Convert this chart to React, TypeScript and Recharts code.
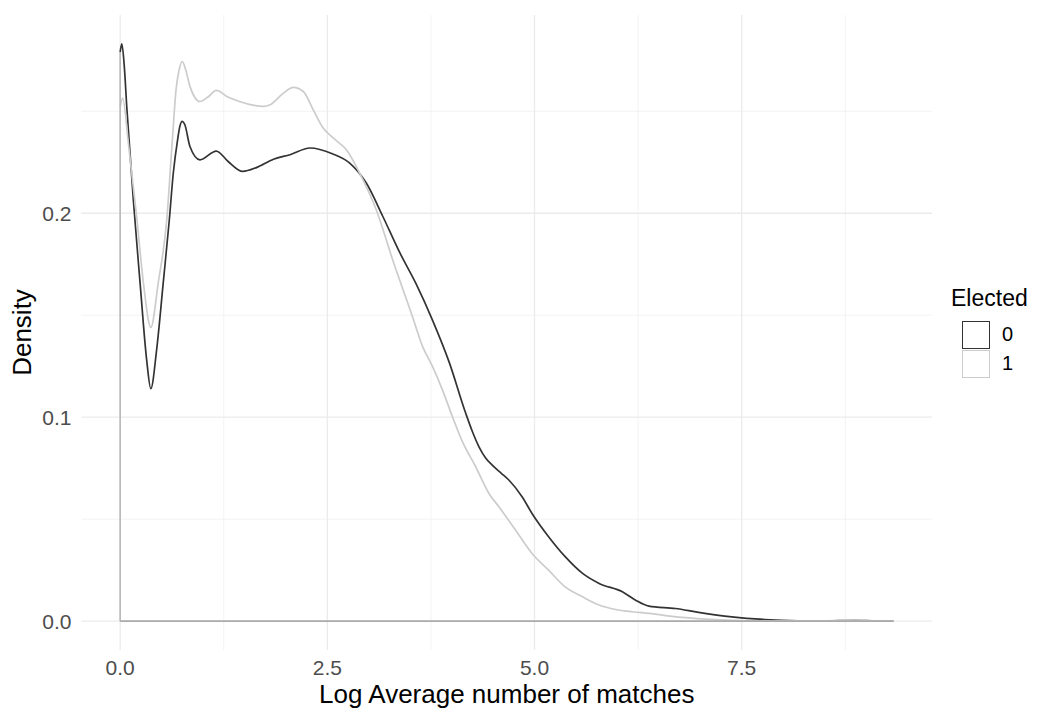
import React from 'react';
import {
  LineChart,
  Line,
  XAxis,
  YAxis,
  CartesianGrid,
  ReferenceLine,
} from 'recharts';

// log average matches, density estimate for non-elected (0)
const x0 = [
  0, 0.02, 0.05, 0.08, 0.12, 0.16, 0.24, 0.32, 0.37, 0.44,
  0.52, 0.593, 0.641, 0.693, 0.72, 0.749, 0.78, 0.842, 0.963, 1.16,
  1.3, 1.48, 1.65, 1.85, 2.05, 2.29, 2.56, 2.77, 2.97, 3.17,
  3.37, 3.57, 3.77, 3.97, 4.17, 4.25, 4.33, 4.41, 4.49, 4.6,
  4.69, 4.85, 4.97, 5.17, 5.37, 5.58, 5.78, 6.06, 6.22, 6.38,
  6.7, 6.98, 7.38, 7.78, 8.18, 8.5, 8.85, 9.1, 9.33,
];
const d0 = [
  0.279, 0.283, 0.272, 0.252, 0.229, 0.206, 0.166, 0.128, 0.114, 0.133,
  0.166, 0.1967, 0.2196, 0.236, 0.2425, 0.245, 0.2435, 0.2327, 0.2262, 0.2305,
  0.2255, 0.2205, 0.2225, 0.2265, 0.2287, 0.232, 0.2292, 0.2246, 0.2148, 0.1984,
  0.181, 0.1655, 0.1475, 0.127, 0.1019, 0.093, 0.0855, 0.08, 0.0765, 0.0725,
  0.0692, 0.061, 0.0528, 0.0414, 0.0316, 0.0234, 0.0185, 0.0144, 0.0103, 0.0074,
  0.0062, 0.0043, 0.0021, 0.0008, 0.0002, 0.0001, 0.0004, 0.0001, 0,
];

// elected (1)
const x1 = [
  0, 0.03, 0.1, 0.2, 0.28, 0.37, 0.46, 0.562, 0.63, 0.674,
  0.71, 0.749, 0.79, 0.842, 0.963, 1.06, 1.16, 1.3, 1.44, 1.6,
  1.73, 1.81, 1.97, 2.09, 2.21, 2.33, 2.45, 2.57, 2.73, 2.89,
  3.09, 3.29, 3.53, 3.65, 3.77, 3.89, 4.01, 4.13, 4.29, 4.45,
  4.57, 4.77, 4.97, 5.17, 5.37, 5.58, 5.78, 5.98, 6.18, 6.38,
  6.78, 7.18, 7.58, 8.0, 8.4, 8.8, 9.1, 9.33,
];
const d1 = [
  0.252, 0.2565, 0.234, 0.198, 0.166, 0.144, 0.166, 0.1967, 0.236, 0.2605,
  0.27, 0.2744, 0.2705, 0.2622, 0.2548, 0.257, 0.2602, 0.257, 0.2548, 0.253,
  0.2524, 0.2532, 0.2589, 0.2617, 0.2597, 0.2507, 0.2418, 0.2369, 0.2311, 0.2197,
  0.2017, 0.177, 0.149, 0.1346, 0.1248, 0.1133, 0.1002, 0.088, 0.0757, 0.0626,
  0.0561, 0.0447, 0.0332, 0.025, 0.0168, 0.0119, 0.0079, 0.0057, 0.0046, 0.0038,
  0.0018, 0.0007, 0.0002, 0.0001, 0.0001, 0.0005, 0.0002, 0,
];

const xMajor = [0, 2.5, 5, 7.5];
const xMinor = [1.25, 3.75, 6.25, 8.75];
const yMajor = [0, 0.1, 0.2];
const yMinor = [0.05, 0.15, 0.25];

const groups = ['0', '1'];
const colors = ['#333333', '#cccccc'];

const series0 = x0.map((x, i) => ({ x, y: d0[i] }));
const series1 = x1.map((x, i) => ({ x, y: d1[i] }));
const xMax = x0[x0.length - 1];

const font = '"Liberation Sans", Arial, Helvetica, sans-serif';

function LegendBox() {
  return (
    <div
      style={{
        position: 'absolute',
        left: 951,
        top: 285,
        fontFamily: font,
        color: '#000',
      }}
    >
      <div style={{ fontSize: 23, lineHeight: '26px', marginBottom: 9 }}>Elected</div>
      {groups.map((g, i) => (
        <div key={g} style={{ display: 'flex', alignItems: 'center', height: 29 }}>
          <div
            style={{
              width: 28,
              height: 28,
              boxSizing: 'border-box',
              border: `1.6px solid ${colors[i]}`,
              marginLeft: 11,
            }}
          />
          <span style={{ fontSize: 20, marginLeft: 12, color: '#000' }}>{g}</span>
        </div>
      ))}
    </div>
  );
}

export default function App() {
  return (
    <div style={{ position: 'absolute', left: 0, top: 0, width: 1052, height: 709, background: '#fff' }}>
      <LineChart
        width={1052}
        height={709}
        margin={{ top: 15, right: 120, bottom: 0, left: 0 }}
        style={{ fontFamily: font }}
      >
        <CartesianGrid
          vertical
          horizontal
          verticalValues={xMinor}
          horizontalValues={yMinor}
          stroke="#f0f0f0"
          strokeWidth={0.8}
        />
        <CartesianGrid
          vertical
          horizontal
          verticalValues={xMajor}
          horizontalValues={yMajor}
          stroke="#ebebeb"
          strokeWidth={1.3}
        />
        <XAxis
          type="number"
          dataKey="x"
          domain={[-0.4665, 9.7965]}
          ticks={xMajor}
          allowDataOverflow
          axisLine={false}
          tickLine={false}
          tickSize={0}
          tickMargin={10}
          height={59}
          tick={{ fill: '#4d4d4d', fontSize: 21 }}
          tickFormatter={(v: number) => v.toFixed(1)}
          label={{
            value: 'Log Average number of matches',
            position: 'insideBottom',
            offset: 6,
            fill: '#000',
            fontSize: 26,
          }}
        />
        <YAxis
          type="number"
          dataKey="y"
          domain={[-0.01415, 0.2972]}
          ticks={yMajor}
          allowDataOverflow
          axisLine={false}
          tickLine={false}
          tickSize={0}
          tickMargin={10}
          width={81.5}
          tick={{ fill: '#4d4d4d', fontSize: 21 }}
          tickFormatter={(v: number) => v.toFixed(1)}
          label={{
            value: 'Density',
            angle: -90,
            position: 'insideLeft',
            offset: 22,
            fill: '#000',
            fontSize: 26,
            style: { textAnchor: 'middle' },
          }}
        />
        <Line
          data={series0}
          dataKey="y"
          type="monotone"
          stroke={colors[0]}
          strokeWidth={1.7}
          dot={false}
          isAnimationActive={false}
        />
        <Line
          data={series1}
          dataKey="y"
          type="monotone"
          stroke={colors[1]}
          strokeWidth={1.7}
          dot={false}
          isAnimationActive={false}
        />
        <ReferenceLine
          segment={[{ x: 0, y: 0 }, { x: 0, y: d0[0] }]}
          stroke="#b8b8b8"
          strokeWidth={1.6}
        />
        <ReferenceLine
          segment={[{ x: 0, y: 0 }, { x: xMax, y: 0 }]}
          stroke="#aaaaaa"
          strokeWidth={1.9}
        />
      </LineChart>
      <LegendBox />
    </div>
  );
}
